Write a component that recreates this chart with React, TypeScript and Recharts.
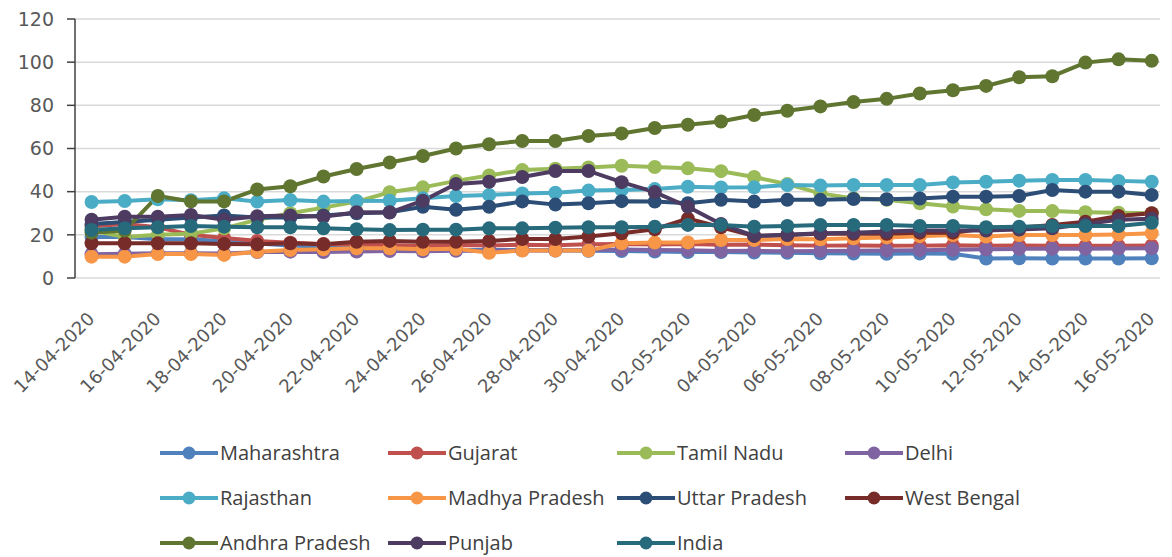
import { LineChart, Line, XAxis, YAxis, CartesianGrid, Legend } from "recharts";

const dates = [
  "14-04-2020", "15-04-2020", "16-04-2020", "17-04-2020", "18-04-2020", "19-04-2020",
  "20-04-2020", "21-04-2020", "22-04-2020", "23-04-2020", "24-04-2020", "25-04-2020",
  "26-04-2020", "27-04-2020", "28-04-2020", "29-04-2020", "30-04-2020", "01-05-2020",
  "02-05-2020", "03-05-2020", "04-05-2020", "05-05-2020", "06-05-2020", "07-05-2020",
  "08-05-2020", "09-05-2020", "10-05-2020", "11-05-2020", "12-05-2020", "13-05-2020",
  "14-05-2020", "15-05-2020", "16-05-2020",
];

const maharashtra = [19, 19, 18, 18, 17, 16, 15, 14.5, 14, 13.5, 13.5, 13, 13, 13, 12.8, 12.6, 12.5, 12.3, 12, 12, 11.8, 11.7, 11.5, 11.3, 11.2, 11.3, 11.2, 9, 9.1, 9, 9, 9, 9.1];
const gujarat = [24, 25, 23.5, 20, 18.5, 17.2, 16.3, 15.8, 15.5, 15.2, 15, 15.3, 15.1, 15.4, 15.2, 15.6, 15.8, 15.5, 15.7, 15.4, 15.5, 15.2, 15, 15.1, 14.9, 15, 15.2, 15, 15.1, 15, 14.9, 15, 15.1];
const tamilNadu = [22, 19, 20, 20.5, 23, 27, 30, 32.6, 35.4, 39.7, 42, 45, 47.5, 50, 50.6, 51.2, 52, 51.4, 50.8, 49.5, 46.8, 43.5, 39.2, 36.9, 36.2, 34.6, 33.1, 31.8, 31.1, 31, 30.5, 30.2, 30];
const delhi = [11, 11.2, 11.5, 11.5, 11.3, 12, 12.2, 12, 12.3, 12.5, 12.4, 12.6, 12.5, 12.8, 12.7, 13, 13.2, 13, 12.8, 12.5, 12.6, 12.4, 12.5, 12.6, 12.7, 12.9, 13.1, 13.3, 13.5, 13.6, 13.6, 13.7, 13.8];
const rajasthan = [35.2, 35.7, 36.5, 36, 36.9, 35.4, 36.1, 35.4, 35.7, 35.8, 36.9, 38, 38.5, 39.2, 39.5, 40.5, 40.8, 41.2, 42.3, 41.9, 42, 43.1, 42.8, 43.1, 43.1, 43.1, 44.3, 44.6, 45.1, 45.4, 45.4, 45, 44.6];
const madhyaPradesh = [9.9, 9.9, 11.1, 11.1, 10.7, 12.2, 13, 13.3, 13.8, 13.8, 13.3, 13.5, 11.7, 12.7, 12.7, 12.7, 16.1, 16.4, 16.5, 17.6, 17.6, 18.1, 17.9, 18.4, 18.8, 19.4, 19.9, 19.2, 19.9, 19.9, 19.9, 20.2, 20.7];
const uttarPradesh = [25, 26, 27, 28, 29, 28, 28, 29, 30, 30.5, 33, 31.6, 33, 35.5, 34, 34.6, 35.6, 35.4, 34.6, 36.2, 35.4, 36.2, 36.2, 36.6, 36.5, 36.8, 37.7, 37.7, 38, 40.8, 40, 40, 38.5];
const westBengal = [16.1, 16.1, 16.1, 16.1, 15.8, 15.6, 16.1, 15.6, 16.8, 17.2, 16.8, 16.8, 17.2, 18.1, 18.1, 19.2, 20.7, 22.6, 27.5, 23.5, 19.5, 19.9, 20.5, 20.5, 20.5, 21, 21, 23, 23.3, 24.6, 26.1, 28.7, 30];
const andhraPradesh = [21, 22, 38, 35.5, 35.5, 41, 42.5, 47, 50.5, 53.5, 56.5, 60, 62, 63.5, 63.5, 65.8, 67, 69.5, 71, 72.5, 75.5, 77.5, 79.5, 81.5, 83, 85.5, 87, 89, 93, 93.5, 99.8, 101.3, 100.6];
const punjab = [27, 28.4, 28.4, 29.2, 27, 28.6, 29, 28.4, 30.5, 30.3, 35.8, 43.6, 44.6, 46.8, 49.6, 49.6, 44.4, 39.8, 33, 25, 19.5, 20, 20.7, 21, 21.5, 22, 22, 22, 22.5, 23, 25, 27, 27.5];
const india = [22.2, 23, 23.5, 24.1, 23.8, 23.5, 23.5, 23, 22.6, 22.2, 22.4, 22.4, 23, 23, 23.3, 23.5, 23.5, 23.8, 24.6, 24.6, 23.8, 24.1, 24.6, 24.6, 24.6, 24.1, 24.1, 23.5, 23.8, 24.1, 24.1, 24.1, 25.6];

const yTicks = [0, 20, 40, 60, 80, 100, 120];

const series = [
  { name: "Maharashtra", values: maharashtra, color: "#4F81BD" },
  { name: "Gujarat", values: gujarat, color: "#C0504D" },
  { name: "Tamil Nadu", values: tamilNadu, color: "#9BBB59" },
  { name: "Delhi", values: delhi, color: "#8064A2" },
  { name: "Rajasthan", values: rajasthan, color: "#4BACC6" },
  { name: "Madhya Pradesh", values: madhyaPradesh, color: "#F79646" },
  { name: "Uttar Pradesh", values: uttarPradesh, color: "#2C4D75" },
  { name: "West Bengal", values: westBengal, color: "#772C2A" },
  { name: "Andhra Pradesh", values: andhraPradesh, color: "#5F7530" },
  { name: "Punjab", values: punjab, color: "#4D3B62" },
  { name: "India", values: india, color: "#276A7C" },
];
const seriesOrder = series.map((s) => s.name);

const data = dates.map((d, i) => {
  const row: any = { idx: i, date: d };
  series.forEach((s) => {
    row[s.name] = s.values[i];
  });
  return row;
});

// labels sit on every second day, tick marks on the boundaries between days
const labelTicks = dates.map((_, i) => i).filter((i) => i % 2 === 0);
const markTicks = labelTicks.map((i) => i - 0.5);
const xDomain = [-0.5, 32.25];

function DateTick(props: any) {
  const { x, y, payload } = props;
  return (
    <g transform={`translate(${x + 4},${y + 42})`}>
      <text
        textAnchor="end"
        transform="rotate(-45)"
        fill="#595959"
        fontSize={18}
        fontFamily="DejaVu Sans"
      >
        {dates[payload.value]}
      </text>
    </g>
  );
}

function LegendGrid(props: any) {
  // keep the series order, recharts sorts the payload by name
  const items = [...(props.payload || [])].sort(
    (a: any, b: any) => seriesOrder.indexOf(a.value) - seriesOrder.indexOf(b.value)
  );
  return (
    <div
      style={{
        display: "grid",
        gridTemplateColumns: "228px 229px 228px 228px",
        gridAutoRows: "45px",
        marginLeft: 160,
      }}
    >
      {items.map((p: any) => (
        <div key={p.value} style={{ display: "flex", alignItems: "center", whiteSpace: "nowrap" }}>
          <svg width={58} height={16}>
            <line x1={0} y1={8} x2={58} y2={8} stroke={p.color} strokeWidth={4} />
            <circle cx={29} cy={8} r={6.5} fill={p.color} />
          </svg>
          <span style={{ marginLeft: 2, fontFamily: "Open Sans", fontSize: 20, color: "#404040" }}>
            {p.value}
          </span>
        </div>
      ))}
    </div>
  );
}

export default function App() {
  return (
    <div style={{ position: "absolute", left: 0, top: 0, background: "#fff" }}>
      <LineChart
        width={1172}
        height={557}
        data={data}
        margin={{ top: 19, right: 12, bottom: 179, left: 15 }}
      >
        <CartesianGrid xAxisId="labels" vertical={false} stroke="#d9d9d9" strokeWidth={1.5} />
        <XAxis
          xAxisId="marks"
          dataKey="idx"
          type="number"
          domain={xDomain}
          allowDataOverflow
          ticks={markTicks}
          interval={0}
          tick={false}
          tickSize={8}
          height={0}
          axisLine={{ stroke: "#404040", strokeWidth: 1.5 }}
          tickLine={{ stroke: "#404040", strokeWidth: 1.5 }}
        />
        <XAxis
          xAxisId="labels"
          dataKey="idx"
          type="number"
          domain={xDomain}
          allowDataOverflow
          ticks={labelTicks}
          interval={0}
          axisLine={false}
          tickLine={false}
          tickSize={0}
          tickMargin={0}
          height={100}
          tick={(p: any) => <DateTick {...p} />}
        />
        <YAxis
          domain={[0, 120]}
          ticks={yTicks}
          width={60}
          tickSize={8}
          tickMargin={13}
          axisLine={{ stroke: "#404040", strokeWidth: 1.5 }}
          tickLine={{ stroke: "#404040", strokeWidth: 1.5 }}
          tick={{ fill: "#595959", fontSize: 19, fontFamily: "DejaVu Sans" }}
        />
        <Legend
          layout="horizontal"
          verticalAlign="middle"
          align="center"
          wrapperStyle={{ top: 430, left: 0, width: 1172 }}
          content={(p: any) => <LegendGrid {...p} />}
        />
        {series.map((s) => (
          <Line
            key={s.name}
            xAxisId="labels"
            type="linear"
            dataKey={s.name}
            name={s.name}
            stroke={s.color}
            strokeWidth={4}
            dot={{ r: 7, fill: s.color, stroke: s.color, strokeWidth: 0 }}
            activeDot={false}
            isAnimationActive={false}
          />
        ))}
      </LineChart>
    </div>
  );
}
